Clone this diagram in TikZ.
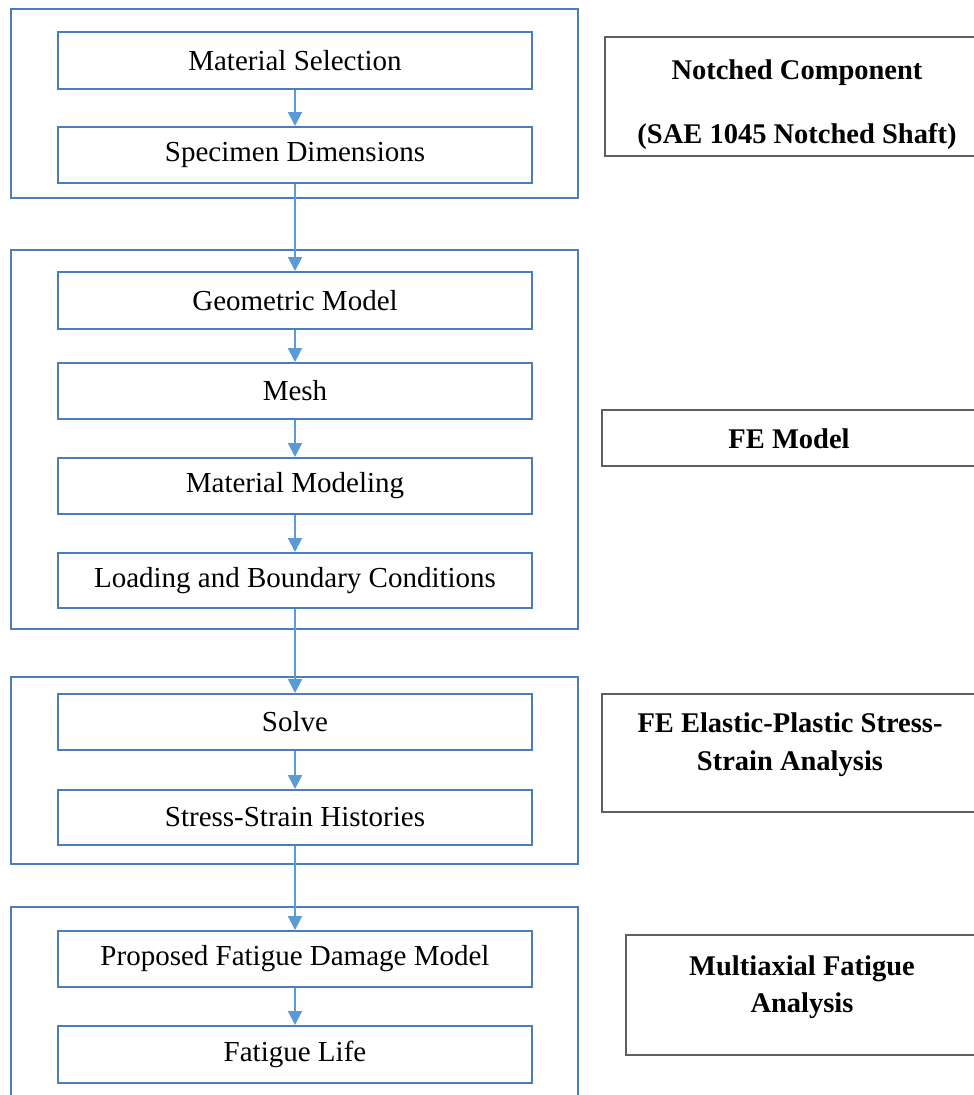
\documentclass[tikz,border=0pt]{standalone}
\usepackage{fontspec}
\setmainfont{Liberation Serif}
\usetikzlibrary{arrows.meta}
\definecolor{boxblue}{HTML}{4A7EBB}
\definecolor{arrblue}{HTML}{5B9BD5}
\definecolor{boxgray}{HTML}{5F5F5F}
\begin{document}
\begin{tikzpicture}[x=1pt,y=-1pt,
  outerbox/.style={draw=boxblue, line width=2pt, minimum width=567pt, inner sep=0pt},
  innerbox/.style={draw=boxblue, line width=2pt, minimum width=474pt, inner sep=0pt,
     font=\fontsize{29}{34}\selectfont},
  sidebox/.style={draw=boxgray, line width=2pt, inner sep=0pt},
  sidetext/.style={align=center, inner sep=0pt, font=\bfseries\fontsize{28.5}{38}\selectfont},
  arr/.style={draw=arrblue, line width=2pt, -{Triangle[width=14pt,length=14pt]}}]
\useasboundingbox (0,0) rectangle (974,1095);
\fill[white] (0,0) rectangle (974,1095);
\clip (0,0) rectangle (974,1095);

% outer group boxes
\node[outerbox, minimum height=189pt] (g1) at (294.5,103.5) {};
\node[outerbox, minimum height=379pt] (g2) at (294.5,439.5) {};
\node[outerbox, minimum height=187pt] (g3) at (294.5,770.5) {};
\node[outerbox, minimum height=203pt] (g4) at (294.5,1008.5) {};

% inner steps
\node[innerbox, minimum height=57pt] (mat)   at (295,60.5)  {Material Selection};
\node[innerbox, minimum height=56pt] (spec)  at (295,155)   {Specimen Dimensions};
\node[innerbox, minimum height=57pt] (geo)   at (295,300.5) {Geometric Model};
\node[innerbox, minimum height=56pt] (mesh)  at (295,391)   {Mesh};
\node[innerbox, minimum height=56pt] (mmod)  at (295,486)   {Material Modeling};
\node[innerbox, minimum height=55pt] (load)  at (295,580.5) {Loading and Boundary Conditions};
\node[innerbox, minimum height=56pt] (solve) at (295,722)   {Solve};
\node[innerbox, minimum height=55pt] (ssh)   at (295,817.5) {Stress-Strain Histories};
\node[innerbox, minimum height=56pt] (prop)  at (295,959)   {Proposed Fatigue Damage Model};
\node[innerbox, minimum height=57pt] (life)  at (295,1054.5){Fatigue Life};

% connectors
\draw[arr] (mat.south) -- (spec.north);
\draw[arr] (spec.south) -- (geo.north);
\draw[arr] (geo.south) -- (mesh.north);
\draw[arr] (mesh.south) -- (mmod.north);
\draw[arr] (mmod.south) -- (load.north);
\draw[arr] (load.south) -- (solve.north);
\draw[arr] (solve.south) -- (ssh.north);
\draw[arr] (ssh.south) -- (prop.north);
\draw[arr] (prop.south) -- (life.north);

% side boxes
\node[sidebox, minimum width=385pt, minimum height=119pt] (s1) at (797.5,96.5) {};
\node[sidetext, font=\bfseries\fontsize{28.5}{64}\selectfont] (s1t) at (797,105) {Notched Component\\(SAE 1045 Notched Shaft)};
\node[sidebox, minimum width=388pt, minimum height=56pt] (s2) at (796,438) {};
\node[sidetext] (s2t) at (789,439) {FE Model};
\node[sidebox, minimum width=388pt, minimum height=118pt] (s3) at (796,753) {};
\node[sidetext] (s3t) at (790,745) {FE Elastic-Plastic Stress-\\Strain Analysis};
\node[sidebox, minimum width=364pt, minimum height=120pt] (s4) at (808,995) {};
\node[sidetext, font=\bfseries\fontsize{28.5}{37}\selectfont] (s4t) at (802,987.5) {Multiaxial Fatigue\\Analysis};
\end{tikzpicture}
\end{document}
